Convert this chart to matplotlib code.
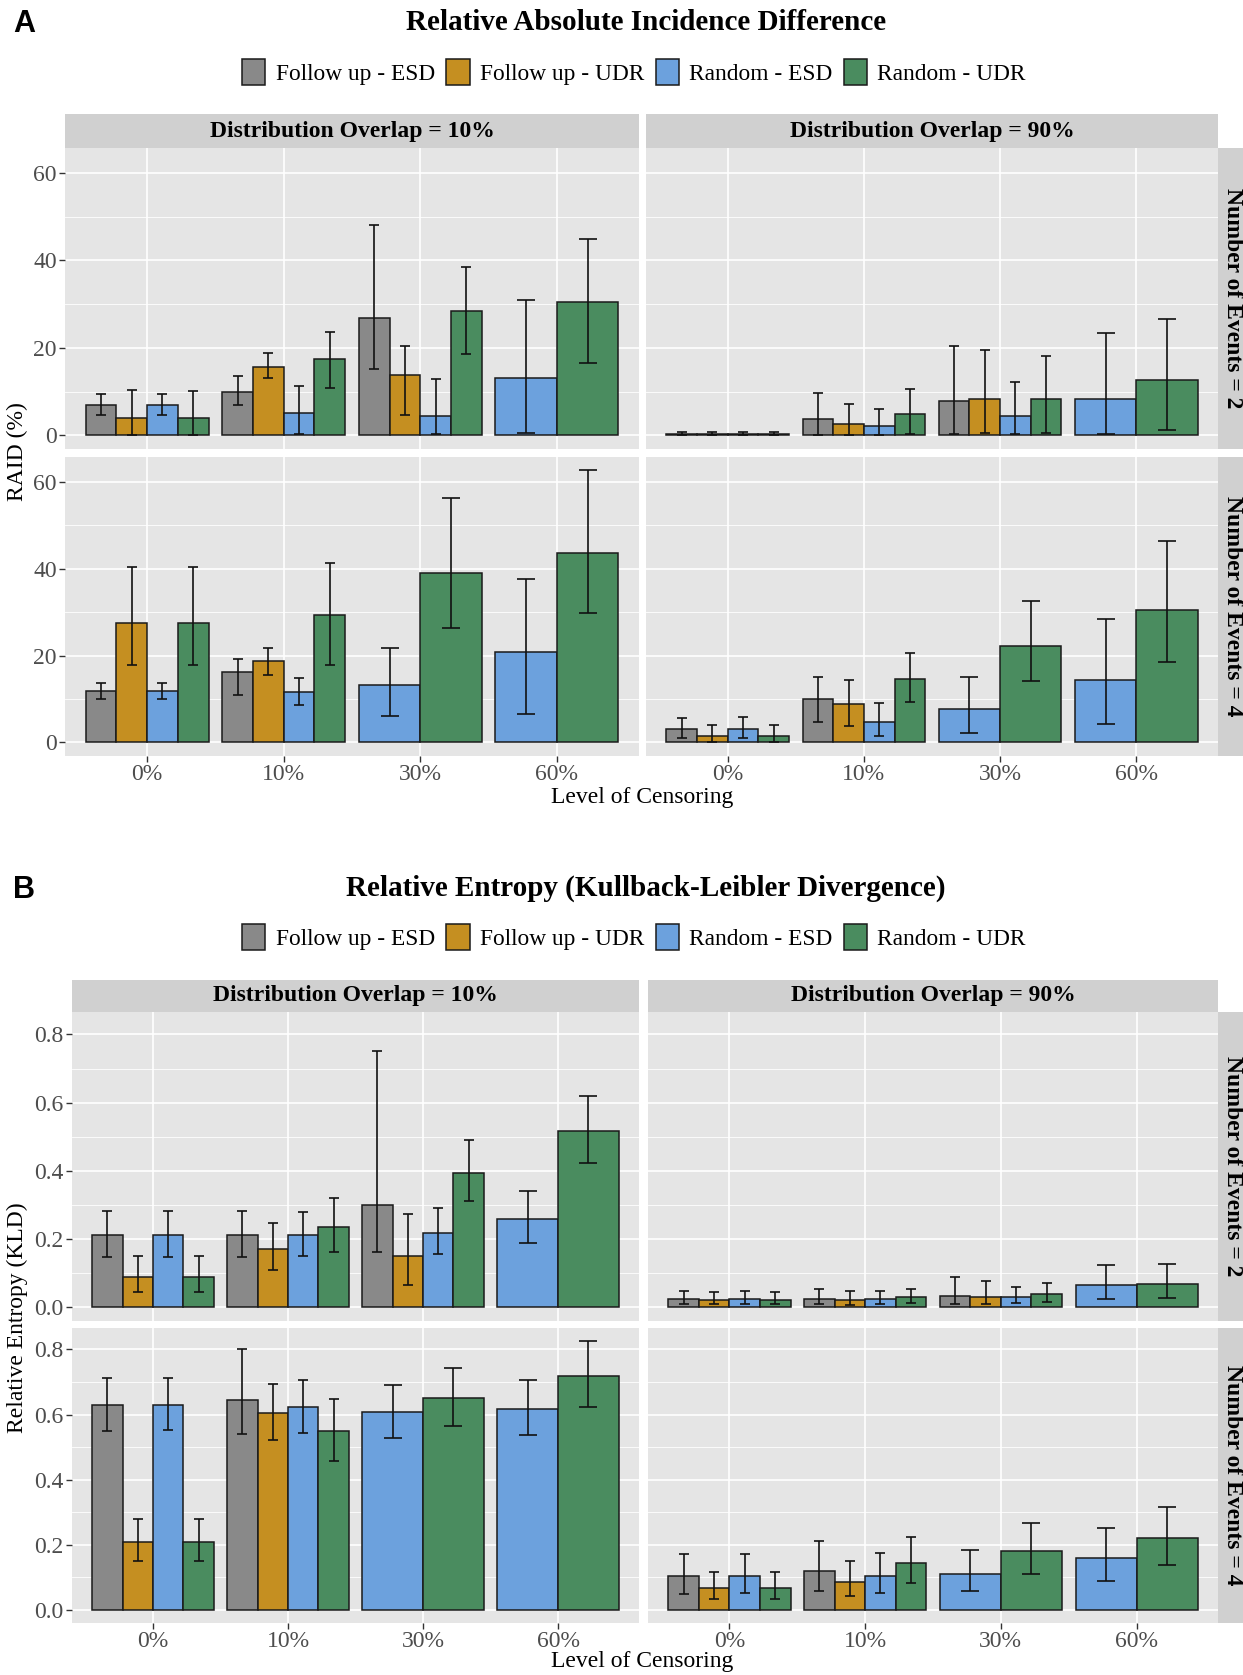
import numpy as np
import matplotlib
matplotlib.use('Agg')
import matplotlib.pyplot as plt
from matplotlib.patches import Patch

plt.rcParams['font.family'] = 'Liberation Serif'

# ---- data ----
methods = ['Follow up - ESD', 'Follow up - UDR', 'Random - ESD', 'Random - UDR']
colors = ['#898989', '#C58F21', '#6CA1DD', '#4A8C5F']
censoring = ['0%', '10%', '30%', '60%']
overlaps = ['Distribution Overlap = 10%', 'Distribution Overlap = 90%']
events = ['Number of Events = 2', 'Number of Events = 4']
N = None

# RAID (%) : [events][overlap][censoring][method]
raid_mean = [
    [[[7.0, 3.9, 7.0, 3.9], [10.0, 15.6, 5.2, 17.5], [26.9, 13.9, 4.5, 28.5], [N, N, 13.1, 30.5]],
     [[0.3, 0.3, 0.3, 0.3], [3.8, 2.5, 2.2, 4.8], [7.9, 8.4, 4.4, 8.3], [N, N, 8.4, 12.6]]],
    [[[11.9, 27.4, 11.9, 27.4], [16.2, 18.7, 11.5, 29.3], [N, N, 13.1, 38.9], [N, N, 20.9, 43.5]],
     [[3.1, 1.5, 3.1, 1.5], [10.0, 8.8, 4.7, 14.5], [N, N, 7.7, 22.3], [N, N, 14.4, 30.4]]],
]
raid_lo = [
    [[[4.7, 0.0, 4.7, 0.0], [7.0, 13.1, 0.3, 10.9], [15.2, 4.7, 0.3, 18.7], [N, N, 0.6, 16.5]],
     [[0.0, 0.0, 0.0, 0.0], [0.15, 0.1, 0.1, 0.3], [0.4, 0.6, 0.2, 0.6], [N, N, 0.3, 1.2]]],
    [[[9.9, 17.8, 9.9, 17.8], [10.8, 15.5, 8.5, 17.8], [N, N, 6.1, 26.4], [N, N, 6.5, 29.9]],
     [[0.9, 0.2, 1.0, 0.2], [4.8, 3.7, 1.5, 9.3], [N, N, 2.1, 14.1], [N, N, 4.3, 18.6]]],
]
raid_hi = [
    [[[9.5, 10.3, 9.5, 10.1], [13.6, 18.8, 11.2, 23.6], [48.0, 20.4, 12.9, 38.6], [N, N, 31.0, 45.0]],
     [[0.8, 0.7, 0.8, 0.7], [9.6, 7.1, 6.1, 10.5], [20.4, 19.4, 12.1, 18.1], [N, N, 23.4, 26.5]]],
    [[[13.6, 40.3, 13.6, 40.4], [19.1, 21.7, 14.8, 41.2], [N, N, 21.8, 56.2], [N, N, 37.7, 62.6]],
     [[5.7, 4.0, 5.9, 3.9], [15.0, 14.4, 9.0, 20.5], [N, N, 15.1, 32.5], [N, N, 28.3, 46.3]]],
]

# KLD : [events][overlap][censoring][method]
kld_mean = [
    [[[0.210, 0.089, 0.210, 0.089], [0.210, 0.171, 0.210, 0.236], [0.299, 0.151, 0.218, 0.394], [N, N, 0.257, 0.518]],
     [[0.023, 0.020, 0.023, 0.020], [0.025, 0.021, 0.025, 0.028], [0.033, 0.028, 0.029, 0.038], [N, N, 0.064, 0.069]]],
    [[[0.630, 0.209, 0.630, 0.209], [0.646, 0.605, 0.622, 0.549], [N, N, 0.608, 0.650], [N, N, 0.618, 0.718]],
     [[0.103, 0.066, 0.103, 0.066], [0.119, 0.086, 0.104, 0.143], [N, N, 0.111, 0.179], [N, N, 0.159, 0.220]]],
]
kld_lo = [
    [[[0.147, 0.044, 0.147, 0.044], [0.147, 0.110, 0.149, 0.161], [0.161, 0.064, 0.156, 0.310], [N, N, 0.188, 0.422]],
     [[0.010, 0.009, 0.010, 0.009], [0.008, 0.007, 0.009, 0.011], [0.008, 0.008, 0.012, 0.014], [N, N, 0.023, 0.026]]],
    [[[0.550, 0.149, 0.551, 0.150], [0.539, 0.523, 0.543, 0.458], [N, N, 0.527, 0.566], [N, N, 0.537, 0.624]],
     [[0.049, 0.033, 0.050, 0.032], [0.057, 0.041, 0.051, 0.083], [N, N, 0.057, 0.109], [N, N, 0.088, 0.136]]],
]
kld_hi = [
    [[[0.281, 0.150, 0.281, 0.151], [0.281, 0.247, 0.280, 0.320], [0.752, 0.274, 0.292, 0.491], [N, N, 0.341, 0.620]],
     [[0.047, 0.043, 0.047, 0.043], [0.054, 0.047, 0.048, 0.053], [0.089, 0.075, 0.059, 0.072], [N, N, 0.123, 0.126]]],
    [[[0.713, 0.280, 0.713, 0.280], [0.800, 0.695, 0.707, 0.648], [N, N, 0.691, 0.743], [N, N, 0.705, 0.825]],
     [[0.172, 0.115, 0.171, 0.115], [0.212, 0.150, 0.173, 0.222], [N, N, 0.183, 0.265], [N, N, 0.250, 0.317]]],
]

W, H = 1243, 1675
fig = plt.figure(figsize=(W / 100, H / 100), dpi=100)
PX_PER_PT = 100 / 72


def rect(x0, y0, x1, y1):
    return [x0 / W, 1 - y1 / H, (x1 - x0) / W, (y1 - y0) / H]


def draw_panel(ax, mean, lo, hi, ylim, yticks, yminor, fmt, show_x, show_y, px_per_unit):
    ax.set_facecolor('#E5E5E5')
    for cat in range(4):
        present = [m for m in range(4) if mean[cat][m] is not None]
        w = 0.9 / len(present)
        # half cap width (in points) = 0.3 * bar width / 2
        cap = 0.3 * w * 0.5 * px_per_unit / PX_PER_PT
        for i, m in enumerate(present):
            x = cat - 0.45 + w * (i + 0.5)
            ax.bar(x, mean[cat][m], width=w, color=colors[m], edgecolor='#1a1a1a',
                   linewidth=1.1, zorder=3)
            ax.errorbar(x, mean[cat][m],
                        yerr=[[mean[cat][m] - lo[cat][m]], [hi[cat][m] - mean[cat][m]]],
                        fmt='none', ecolor='#111111', elinewidth=1.2, capsize=cap,
                        capthick=1.2, zorder=4)
    ax.set_xlim(-0.6, 3.6)
    ax.set_ylim(*ylim)
    ax.set_xticks(range(4))
    ax.set_yticks(yticks)
    ax.set_yticks(yminor, minor=True)
    ax.grid(True, which='major', color='white', linewidth=1.2, zorder=0)
    ax.grid(True, which='minor', axis='y', color='white', linewidth=0.6, zorder=0)
    ax.set_axisbelow(True)
    for s in ax.spines.values():
        s.set_visible(False)
    ax.tick_params(which='minor', length=0)
    ax.tick_params(which='major', length=4, width=1, color='#333333', labelcolor='#4D4D4D',
                   labelsize=17, pad=2)
    if show_x:
        ax.set_xticklabels(censoring)
    else:
        ax.tick_params(axis='x', length=0, labelbottom=False)
    if show_y:
        ax.set_yticklabels([fmt.format(t) for t in yticks])
    else:
        ax.tick_params(axis='y', length=0, labelleft=False)


def strip(x0, y0, x1, y1, text, rot=0):
    sax = fig.add_axes(rect(x0, y0, x1, y1))
    sax.set_facecolor('#D0D0D0')
    sax.set_xticks([])
    sax.set_yticks([])
    for s in sax.spines.values():
        s.set_visible(False)
    tx = 0.42 if rot else 0.5
    sax.text(tx, 0.5, text, rotation=rot, ha='center', va='center', fontsize=17,
             fontweight='bold', transform=sax.transAxes)


def block(label, title, ty, ly, cols, rows, stop, mean, lo, hi, ylim, yticks, yminor, fmt, ylabel, xly):
    fig.text(24 / W, 1 - (ty + 2) / H, label, fontsize=22, fontweight='bold',
             family='Liberation Sans', ha='center', va='center')
    fig.text(646 / W, 1 - ty / H, title, fontsize=21, fontweight='bold', ha='center', va='center')
    handles = [Patch(facecolor=c, edgecolor='#1a1a1a', linewidth=1.1) for c in colors]
    fig.legend(handles, methods, loc='center', bbox_to_anchor=(634 / W, 1 - ly / H), ncol=4,
               frameon=False, fontsize=16.8, handlelength=1.0, handleheight=1.34,
               handletextpad=0.43, columnspacing=0.5)
    for j, (x0, x1) in enumerate(cols):
        strip(x0, stop, x1, rows[0][0], overlaps[j])
    for i, (y0, y1) in enumerate(rows):
        strip(cols[1][1], y0, cols[1][1] + 34, y1, events[i], rot=-90)
        for j, (x0, x1) in enumerate(cols):
            ax = fig.add_axes(rect(x0, y0, x1, y1))
            draw_panel(ax, mean[i][j], lo[i][j], hi[i][j], ylim, yticks, yminor, fmt,
                       show_x=(i == 1), show_y=(j == 0), px_per_unit=(x1 - x0) / 4.2)
    fig.text(642 / W, 1 - xly / H, 'Level of Censoring', fontsize=17, ha='center', va='center')
    yc = (rows[0][0] + rows[1][1]) / 2
    fig.text(17 / W, 1 - yc / H, ylabel, fontsize=17, rotation=90, ha='center', va='center')


block('A', 'Relative Absolute Incidence Difference', 22, 72,
      [(65, 639), (646, 1218)], [(148, 449), (457, 756)], 114,
      raid_mean, raid_lo, raid_hi, (-3.13, 65.7), [0, 20, 40, 60], [10, 30, 50], '{:.0f}',
      'RAID (%)', 797)

block('B', 'Relative Entropy (Kullback-Leibler Divergence)', 888, 937,
      [(72, 639), (648, 1218)], [(1012, 1321), (1328, 1623)], 980,
      kld_mean, kld_lo, kld_hi, (-0.041, 0.866), [0.0, 0.2, 0.4, 0.6, 0.8], [0.1, 0.3, 0.5, 0.7],
      '{:.1f}', 'Relative Entropy (KLD)', 1662)

fig.savefig('out.png', dpi=100)
